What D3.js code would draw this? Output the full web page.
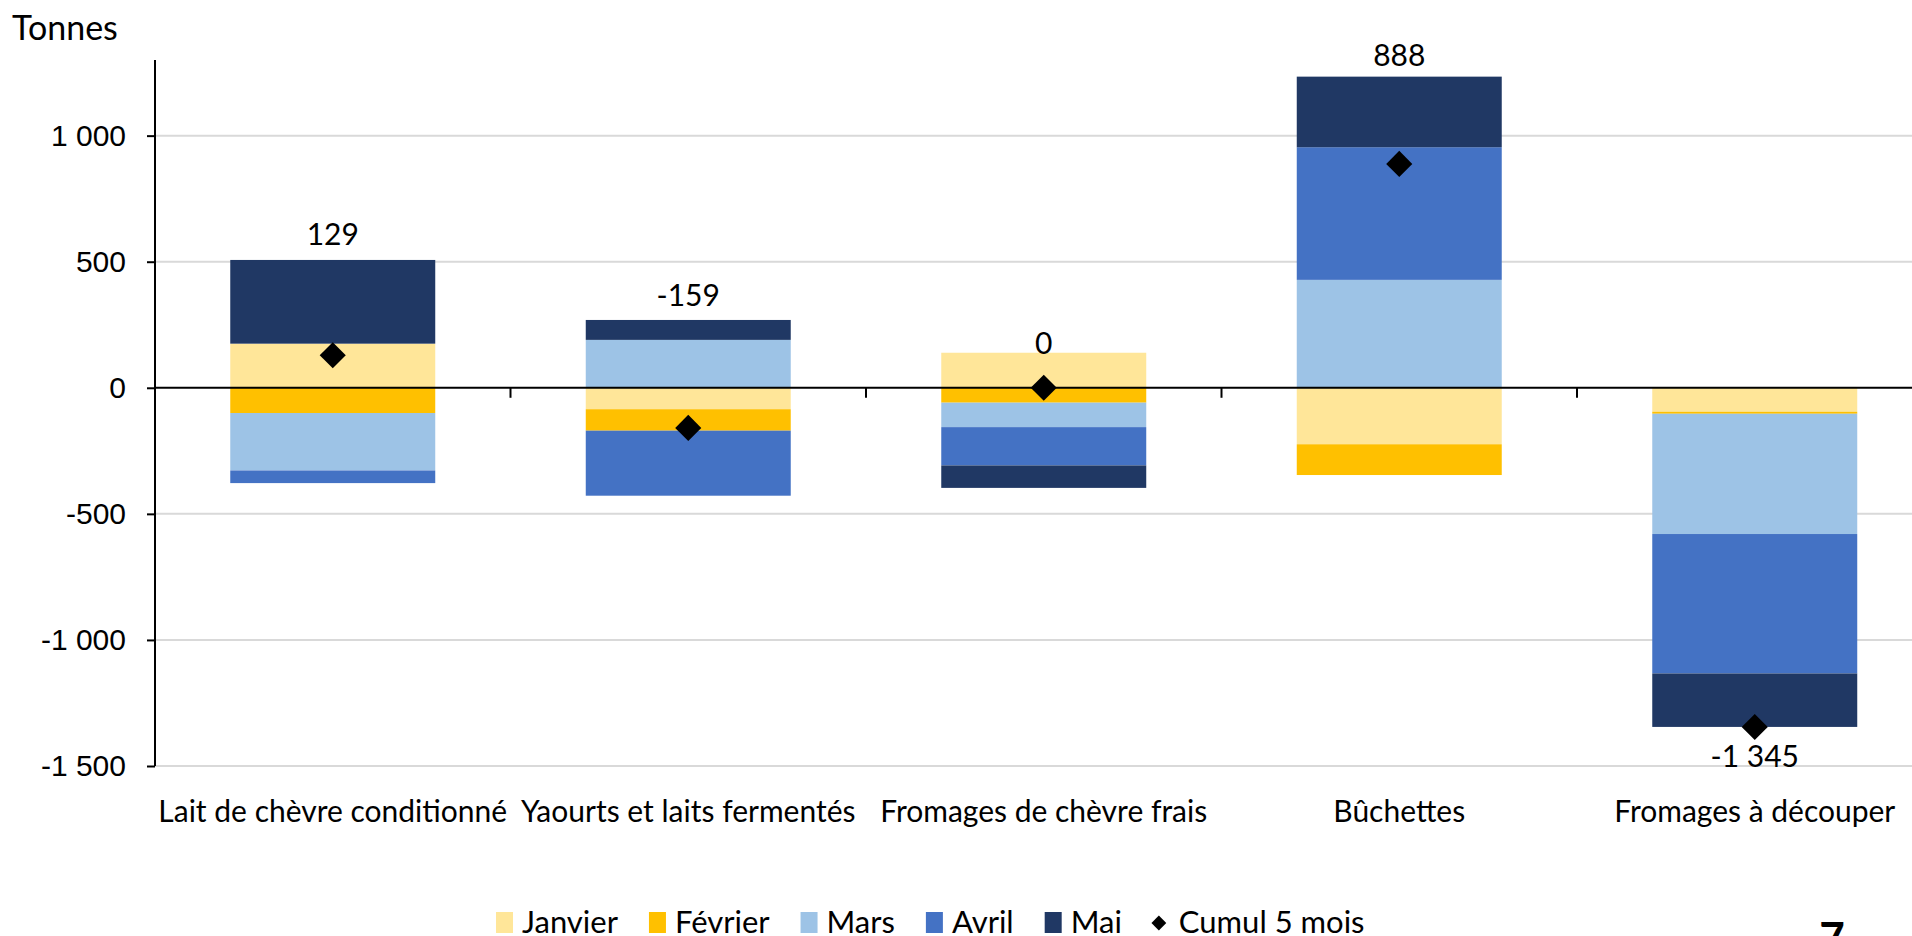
<!DOCTYPE html>
<html>
<head>
    <meta charset="utf-8">
    <title>Tonnes par mois</title>
    <script src="https://cdn.jsdelivr.net/npm/d3@7"></script>
    <style>
        body {
            margin: 0;
            background: #fff;
        }

        svg {
            display: block;
            font-family: Lato, "Open Sans", sans-serif;
        }

        .grid line {
            stroke: #d9d9d9;
            stroke-width: 2px;
        }

        .axis-line {
            stroke: #000;
            stroke-width: 2px;
        }

        .lbl {
            font-size: 30px;
            fill: #000;
        }

        .big {
            font-size: 34px;
            fill: #000;
        }

        .leg {
            font-size: 31px;
            fill: #000;
        }
    </style>
</head>
<body>
<svg width="1912" height="936"></svg>
<script type="text/javascript">

var categories = ["Lait de chèvre conditionné", "Yaourts et laits fermentés", "Fromages de chèvre frais", "Bûchettes", "Fromages à découper"],
    months = ["Janvier", "Février", "Mars", "Avril", "Mai"],
    janvier = [175, -85, 139, -224, -95],
    fevrier = [-100, -85, -59, -122, -8],
    mars = [-228, 190, -97, 428, -477],
    avril = [-50, -258, -152, 526, -553],
    mai = [332, 79, -89, 280, -212],
    cumul = [129, -159, 0, 888, -1345],
    yTicks = [-1500, -1000, -500, 0, 500, 1000],
    colors = ["#ffe699", "#ffc000", "#9dc3e6", "#4472c4", "#203864"];

var svg = d3.select('svg'),
    plotLeft = 155,
    slot = 355.5,
    plotTop = 60,
    plotBottom = 766,
    // distance from stack top to label baseline, as placed by hand in the original
    labelGap = [15, 14, -1, 11, 0];

// french number format: space as thousands separator, plain hyphen
var fr = d3.formatLocale({decimal: ",", thousands: " ", grouping: [3], currency: ["", ""], minus: "-"}),
    fmt = fr.format(",d");

var rows = categories.map(function (c, i) {
    return {
        cat: c,
        "Janvier": janvier[i],
        "Février": fevrier[i],
        "Mars": mars[i],
        "Avril": avril[i],
        "Mai": mai[i],
        cumul: cumul[i]
    };
});

var x = d3.scaleBand()
    .domain(categories)
    .range([plotLeft, plotLeft + slot * categories.length])
    .paddingInner(0.4234)
    .paddingOuter(0.2117);

var y = d3.scaleLinear()
    .domain([-1500, 1300])
    .range([plotBottom, plotTop]);

var color = d3.scaleOrdinal().domain(months).range(colors);

// gridlines
svg.append('g')
    .attr('class', 'grid')
    .selectAll('line')
    .data(yTicks.filter(function (d) { return d !== 0; }))
    .enter()
    .append('line')
    .attr('x1', plotLeft)
    .attr('x2', 1912)
    .attr('y1', function (d) { return y(d); })
    .attr('y2', function (d) { return y(d); });

// stacked bars
var series = d3.stack()
    .keys(months)
    .offset(d3.stackOffsetDiverging)(rows);

svg.append('g')
    .selectAll('g')
    .data(series)
    .enter()
    .append('g')
    .attr('fill', function (d) { return color(d.key); })
    .selectAll('rect')
    .data(function (d) { return d; })
    .enter()
    .append('rect')
    .attr('x', function (d) { return x(d.data.cat); })
    .attr('width', x.bandwidth())
    .attr('y', function (d) { return y(Math.max(d[0], d[1])); })
    .attr('height', function (d) { return Math.abs(y(d[0]) - y(d[1])); });

// y axis
var yAxis = svg.append('g')
    .attr('transform', 'translate(' + plotLeft + ',0)')
    .call(d3.axisLeft(y).tickValues(yTicks).tickFormat(fmt).tickSize(8).tickPadding(21));
yAxis.select('.domain').remove();
yAxis.selectAll('.tick line').attr('stroke', '#000').attr('stroke-width', 2);
yAxis.selectAll('.tick text').attr('class', 'lbl').attr('font-family', null).attr('font-size', null);
svg.append('line')
    .attr('class', 'axis-line')
    .attr('x1', plotLeft).attr('x2', plotLeft)
    .attr('y1', plotTop).attr('y2', plotBottom);

// x axis at zero with ticks between categories
var y0 = y(0);
svg.append('line')
    .attr('class', 'axis-line')
    .attr('x1', plotLeft).attr('x2', 1912)
    .attr('y1', y0).attr('y2', y0);

svg.append('g')
    .selectAll('line')
    .data(d3.range(1, categories.length + 1))
    .enter()
    .append('line')
    .attr('class', 'axis-line')
    .attr('x1', function (i) { return plotLeft + i * x.step(); })
    .attr('x2', function (i) { return plotLeft + i * x.step(); })
    .attr('y1', y0)
    .attr('y2', y0 + 10);

// category labels
svg.append('g')
    .selectAll('text')
    .data(categories)
    .enter()
    .append('text')
    .attr('class', 'lbl')
    .attr('text-anchor', 'middle')
    .attr('x', function (d) { return x(d) + x.bandwidth() / 2; })
    .attr('y', 822)
    .text(function (d) { return d; });

// cumul diamonds
var diamond = d3.symbol().type(d3.symbolSquare).size(340);
svg.append('g')
    .selectAll('path')
    .data(rows)
    .enter()
    .append('path')
    .attr('d', diamond)
    .attr('fill', '#000')
    .attr('transform', function (d) {
        return 'translate(' + (x(d.cat) + x.bandwidth() / 2) + ',' + y(d.cumul) + ') rotate(45)';
    });

// cumul labels: above the stack, or below the point when nothing is positive
var tops = rows.map(function (d, i) {
    return d3.max(series, function (s) { return s[i][1]; });
});
svg.append('g')
    .selectAll('text')
    .data(rows)
    .enter()
    .append('text')
    .attr('class', 'lbl')
    .attr('text-anchor', 'middle')
    .attr('x', function (d) { return x(d.cat) + x.bandwidth() / 2; })
    .attr('y', function (d, i) {
        return tops[i] > 0 ? y(tops[i]) - labelGap[i] : y(d.cumul) + 40;
    })
    .text(function (d) { return fmt(d.cumul); });

// unit title
svg.append('text')
    .attr('class', 'big')
    .attr('x', 12)
    .attr('y', 40)
    .text('Tonnes');

// legend
var legendItems = months.concat(['Cumul 5 mois']),
    legend = svg.append('g').attr('transform', 'translate(496,923)'),
    lx = 0;

legendItems.forEach(function (name, i) {
    var g = legend.append('g').attr('transform', 'translate(' + lx + ',0)');
    if (i < months.length) {
        g.append('rect')
            .attr('x', 0).attr('y', -11)
            .attr('width', 17).attr('height', 21)
            .attr('fill', color(name));
    } else {
        g.append('path')
            .attr('d', d3.symbol().type(d3.symbolSquare).size(110))
            .attr('fill', '#000')
            .attr('transform', 'translate(6,0) rotate(45)');
    }
    var t = g.append('text')
        .attr('class', 'leg')
        .attr('x', 26)
        .attr('y', 10)
        .text(name);
    lx += 26 + t.node().getComputedTextLength() + 31;
});

// page number, cut by the frame
svg.append('text')
    .attr('x', 1832)
    .attr('y', 954)
    .attr('text-anchor', 'middle')
    .attr('font-size', 44)
    .attr('font-weight', 'bold')
    .text('7');

</script>
</body>
</html>
